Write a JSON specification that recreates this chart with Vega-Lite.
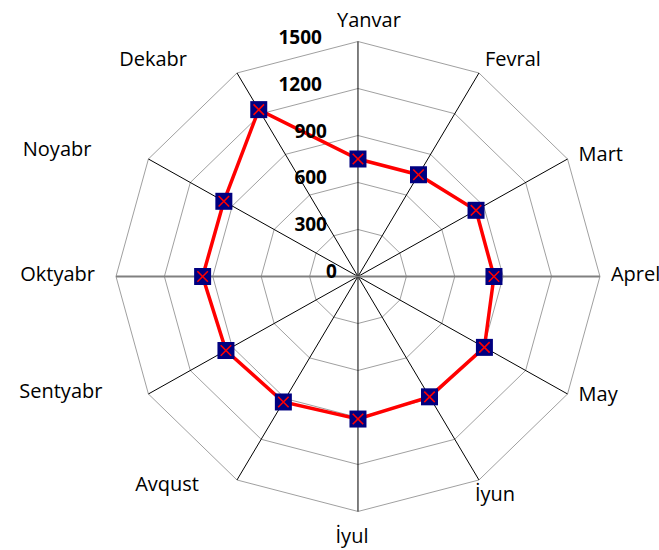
{
  "$schema": "https://vega.github.io/schema/vega-lite/v6.json",
  "width": 659,
  "height": 550,
  "autosize": "none",
  "padding": 0,
  "background": "white",
  "config": {"view": {"stroke": null}},
  "datasets": {
    "sales": [
      {"month": "Yanvar", "i": 0, "value": 750},
      {"month": "Fevral", "i": 1, "value": 750},
      {"month": "Mart", "i": 2, "value": 845},
      {"month": "Aprel", "i": 3, "value": 843},
      {"month": "May", "i": 4, "value": 905},
      {"month": "İyun", "i": 5, "value": 887},
      {"month": "İyul", "i": 6, "value": 910},
      {"month": "Avqust", "i": 7, "value": 925},
      {"month": "Sentyabr", "i": 8, "value": 945},
      {"month": "Oktyabr", "i": 9, "value": 963},
      {"month": "Noyabr", "i": 10, "value": 960},
      {"month": "Dekabr", "i": 11, "value": 1230}
    ],
    "grid": [
      {"level": 300, "i": [0,1,2,3,4,5,6,7,8,9,10,11]},
      {"level": 600, "i": [0,1,2,3,4,5,6,7,8,9,10,11]},
      {"level": 900, "i": [0,1,2,3,4,5,6,7,8,9,10,11]},
      {"level": 1200, "i": [0,1,2,3,4,5,6,7,8,9,10,11]},
      {"level": 1500, "i": [0,1,2,3,4,5,6,7,8,9,10,11]}
    ],
    "levels": [
      {"level": 0}, {"level": 300}, {"level": 600}, {"level": 900}, {"level": 1200}, {"level": 1500}
    ]
  },
  "layer": [
    {
      "data": {"name": "grid"},
      "transform": [
        {"flatten": ["i"]},
        {"calculate": "datum.i*PI/6", "as": "t"},
        {"calculate": "datum.level*sin(datum.t)", "as": "x"},
        {"calculate": "datum.level*cos(datum.t)", "as": "y"}
      ],
      "mark": {"type": "line", "interpolate": "linear-closed", "stroke": "#A0A0A0", "strokeWidth": 1},
      "encoding": {
        "x": {"field": "x", "type": "quantitative", "scale": {"domain": [-2219, 1866], "nice": false, "zero": false}, "axis": null},
        "y": {"field": "y", "type": "quantitative", "scale": {"domain": [-1746, 1765], "nice": false, "zero": false}, "axis": null},
        "detail": {"field": "level", "type": "nominal"},
        "order": {"field": "i", "type": "quantitative"}
      }
    },
    {
      "data": {"name": "sales"},
      "transform": [
        {"calculate": "datum.i*PI/6", "as": "t"},
        {"calculate": "datum.value*sin(datum.t)", "as": "x"},
        {"calculate": "datum.value*cos(datum.t)", "as": "y"},
        {"calculate": "1500*sin(datum.t)", "as": "ex"},
        {"calculate": "1500*cos(datum.t)", "as": "ey"},
        {"calculate": "0", "as": "o"}
      ],
      "layer": [
        {
          "transform": [{"filter": "datum.i != 3 && datum.i != 9"}],
          "mark": {"type": "rule", "stroke": "#000000", "strokeWidth": 1},
          "encoding": {
            "x": {"field": "o", "type": "quantitative", "scale": {"domain": [-2219, 1866], "nice": false, "zero": false}, "axis": null},
            "y": {"field": "o", "type": "quantitative", "scale": {"domain": [-1746, 1765], "nice": false, "zero": false}, "axis": null},
            "x2": {"field": "ex"},
            "y2": {"field": "ey"}
          }
        },
        {
          "transform": [{"filter": "datum.i == 3 || datum.i == 9"}],
          "mark": {"type": "rule", "stroke": "#808080", "strokeWidth": 2},
          "encoding": {
            "x": {"field": "o", "type": "quantitative", "scale": {"domain": [-2219, 1866], "nice": false, "zero": false}, "axis": null},
            "y": {"field": "o", "type": "quantitative", "scale": {"domain": [-1746, 1765], "nice": false, "zero": false}, "axis": null},
            "x2": {"field": "ex"},
            "y2": {"field": "ey"}
          }
        },
        {
          "mark": {"type": "line", "interpolate": "linear-closed", "stroke": "#FF0000", "strokeWidth": 3.5},
          "encoding": {
            "x": {"field": "x", "type": "quantitative", "scale": {"domain": [-2219, 1866], "nice": false, "zero": false}, "axis": null},
            "y": {"field": "y", "type": "quantitative", "scale": {"domain": [-1746, 1765], "nice": false, "zero": false}, "axis": null},
            "order": {"field": "i", "type": "quantitative"}
          }
        },
        {
          "mark": {"type": "point", "shape": "square", "filled": true, "color": "#000080", "opacity": 1, "size": 289},
          "encoding": {
            "x": {"field": "x", "type": "quantitative", "scale": {"domain": [-2219, 1866], "nice": false, "zero": false}, "axis": null},
            "y": {"field": "y", "type": "quantitative", "scale": {"domain": [-1746, 1765], "nice": false, "zero": false}, "axis": null}
          }
        },
        {
          "mark": {"type": "point", "shape": "M-1,-1L1,1M1,-1L-1,1", "filled": false, "stroke": "#FF0000", "strokeWidth": 1.6, "opacity": 1, "size": 110},
          "encoding": {
            "x": {"field": "x", "type": "quantitative", "scale": {"domain": [-2219, 1866], "nice": false, "zero": false}, "axis": null},
            "y": {"field": "y", "type": "quantitative", "scale": {"domain": [-1746, 1765], "nice": false, "zero": false}, "axis": null}
          }
        },
        {"transform": [{"filter": "datum.i == 0"}], "mark": {"type": "text", "align": "center", "baseline": "alphabetic", "dx": 11, "dy": -15, "font": "Open Sans", "fontSize": 20, "color": "#000000"}, "encoding": {"x": {"field": "ex", "type": "quantitative"}, "y": {"field": "ey", "type": "quantitative"}, "text": {"field": "month", "type": "nominal"}}},
        {"transform": [{"filter": "datum.i == 1"}], "mark": {"type": "text", "align": "left", "baseline": "alphabetic", "dx": 6, "dy": -7, "font": "Open Sans", "fontSize": 20, "color": "#000000"}, "encoding": {"x": {"field": "ex", "type": "quantitative"}, "y": {"field": "ey", "type": "quantitative"}, "text": {"field": "month", "type": "nominal"}}},
        {"transform": [{"filter": "datum.i == 2"}], "mark": {"type": "text", "align": "left", "baseline": "alphabetic", "dx": 11, "dy": 2, "font": "Open Sans", "fontSize": 20, "color": "#000000"}, "encoding": {"x": {"field": "ex", "type": "quantitative"}, "y": {"field": "ey", "type": "quantitative"}, "text": {"field": "month", "type": "nominal"}}},
        {"transform": [{"filter": "datum.i == 3"}], "mark": {"type": "text", "align": "left", "baseline": "alphabetic", "dx": 11, "dy": 4.5, "font": "Open Sans", "fontSize": 20, "color": "#000000"}, "encoding": {"x": {"field": "ex", "type": "quantitative"}, "y": {"field": "ey", "type": "quantitative"}, "text": {"field": "month", "type": "nominal"}}},
        {"transform": [{"filter": "datum.i == 4"}], "mark": {"type": "text", "align": "left", "baseline": "alphabetic", "dx": 11, "dy": 7, "font": "Open Sans", "fontSize": 20, "color": "#000000"}, "encoding": {"x": {"field": "ex", "type": "quantitative"}, "y": {"field": "ey", "type": "quantitative"}, "text": {"field": "month", "type": "nominal"}}},
        {"transform": [{"filter": "datum.i == 5"}], "mark": {"type": "text", "align": "left", "baseline": "alphabetic", "dx": -4, "dy": 21, "font": "Open Sans", "fontSize": 20, "color": "#000000"}, "encoding": {"x": {"field": "ex", "type": "quantitative"}, "y": {"field": "ey", "type": "quantitative"}, "text": {"field": "month", "type": "nominal"}}},
        {"transform": [{"filter": "datum.i == 6"}], "mark": {"type": "text", "align": "center", "baseline": "alphabetic", "dx": -6, "dy": 32, "font": "Open Sans", "fontSize": 20, "color": "#000000"}, "encoding": {"x": {"field": "ex", "type": "quantitative"}, "y": {"field": "ey", "type": "quantitative"}, "text": {"field": "month", "type": "nominal"}}},
        {"transform": [{"filter": "datum.i == 7"}], "mark": {"type": "text", "align": "right", "baseline": "alphabetic", "dx": -38, "dy": 11, "font": "Open Sans", "fontSize": 20, "color": "#000000"}, "encoding": {"x": {"field": "ex", "type": "quantitative"}, "y": {"field": "ey", "type": "quantitative"}, "text": {"field": "month", "type": "nominal"}}},
        {"transform": [{"filter": "datum.i == 8"}], "mark": {"type": "text", "align": "right", "baseline": "alphabetic", "dx": -46, "dy": 4, "font": "Open Sans", "fontSize": 20, "color": "#000000"}, "encoding": {"x": {"field": "ex", "type": "quantitative"}, "y": {"field": "ey", "type": "quantitative"}, "text": {"field": "month", "type": "nominal"}}},
        {"transform": [{"filter": "datum.i == 9"}], "mark": {"type": "text", "align": "right", "baseline": "alphabetic", "dx": -21, "dy": 4.5, "font": "Open Sans", "fontSize": 20, "color": "#000000"}, "encoding": {"x": {"field": "ex", "type": "quantitative"}, "y": {"field": "ey", "type": "quantitative"}, "text": {"field": "month", "type": "nominal"}}},
        {"transform": [{"filter": "datum.i == 10"}], "mark": {"type": "text", "align": "right", "baseline": "alphabetic", "dx": -57, "dy": -3, "font": "Open Sans", "fontSize": 20, "color": "#000000"}, "encoding": {"x": {"field": "ex", "type": "quantitative"}, "y": {"field": "ey", "type": "quantitative"}, "text": {"field": "month", "type": "nominal"}}},
        {"transform": [{"filter": "datum.i == 11"}], "mark": {"type": "text", "align": "right", "baseline": "alphabetic", "dx": -50, "dy": -7, "font": "Open Sans", "fontSize": 20, "color": "#000000"}, "encoding": {"x": {"field": "ex", "type": "quantitative"}, "y": {"field": "ey", "type": "quantitative"}, "text": {"field": "month", "type": "nominal"}}}
      ]
    },
    {
      "data": {"name": "levels"},
      "transform": [{"calculate": "0", "as": "o"}],
      "layer": [
        {"transform": [{"filter": "datum.level == 0"}], "mark": {"type": "text", "align": "right", "baseline": "alphabetic", "dx": -21, "dy": 2, "font": "Open Sans", "fontWeight": "bold", "fontSize": 19, "color": "#000000"}, "encoding": {"x": {"field": "o", "type": "quantitative"}, "y": {"field": "level", "type": "quantitative"}, "text": {"field": "level", "type": "nominal"}}},
        {"transform": [{"filter": "datum.level > 0 && datum.level < 1000"}], "mark": {"type": "text", "align": "right", "baseline": "alphabetic", "dx": -31, "dy": 2, "font": "Open Sans", "fontWeight": "bold", "fontSize": 19, "color": "#000000"}, "encoding": {"x": {"field": "o", "type": "quantitative"}, "y": {"field": "level", "type": "quantitative"}, "text": {"field": "level", "type": "nominal"}}},
        {"transform": [{"filter": "datum.level >= 1000"}], "mark": {"type": "text", "align": "right", "baseline": "alphabetic", "dx": -36, "dy": 2, "font": "Open Sans", "fontWeight": "bold", "fontSize": 19, "color": "#000000"}, "encoding": {"x": {"field": "o", "type": "quantitative"}, "y": {"field": "level", "type": "quantitative"}, "text": {"field": "level", "type": "nominal"}}}
      ]
    }
  ]
}
